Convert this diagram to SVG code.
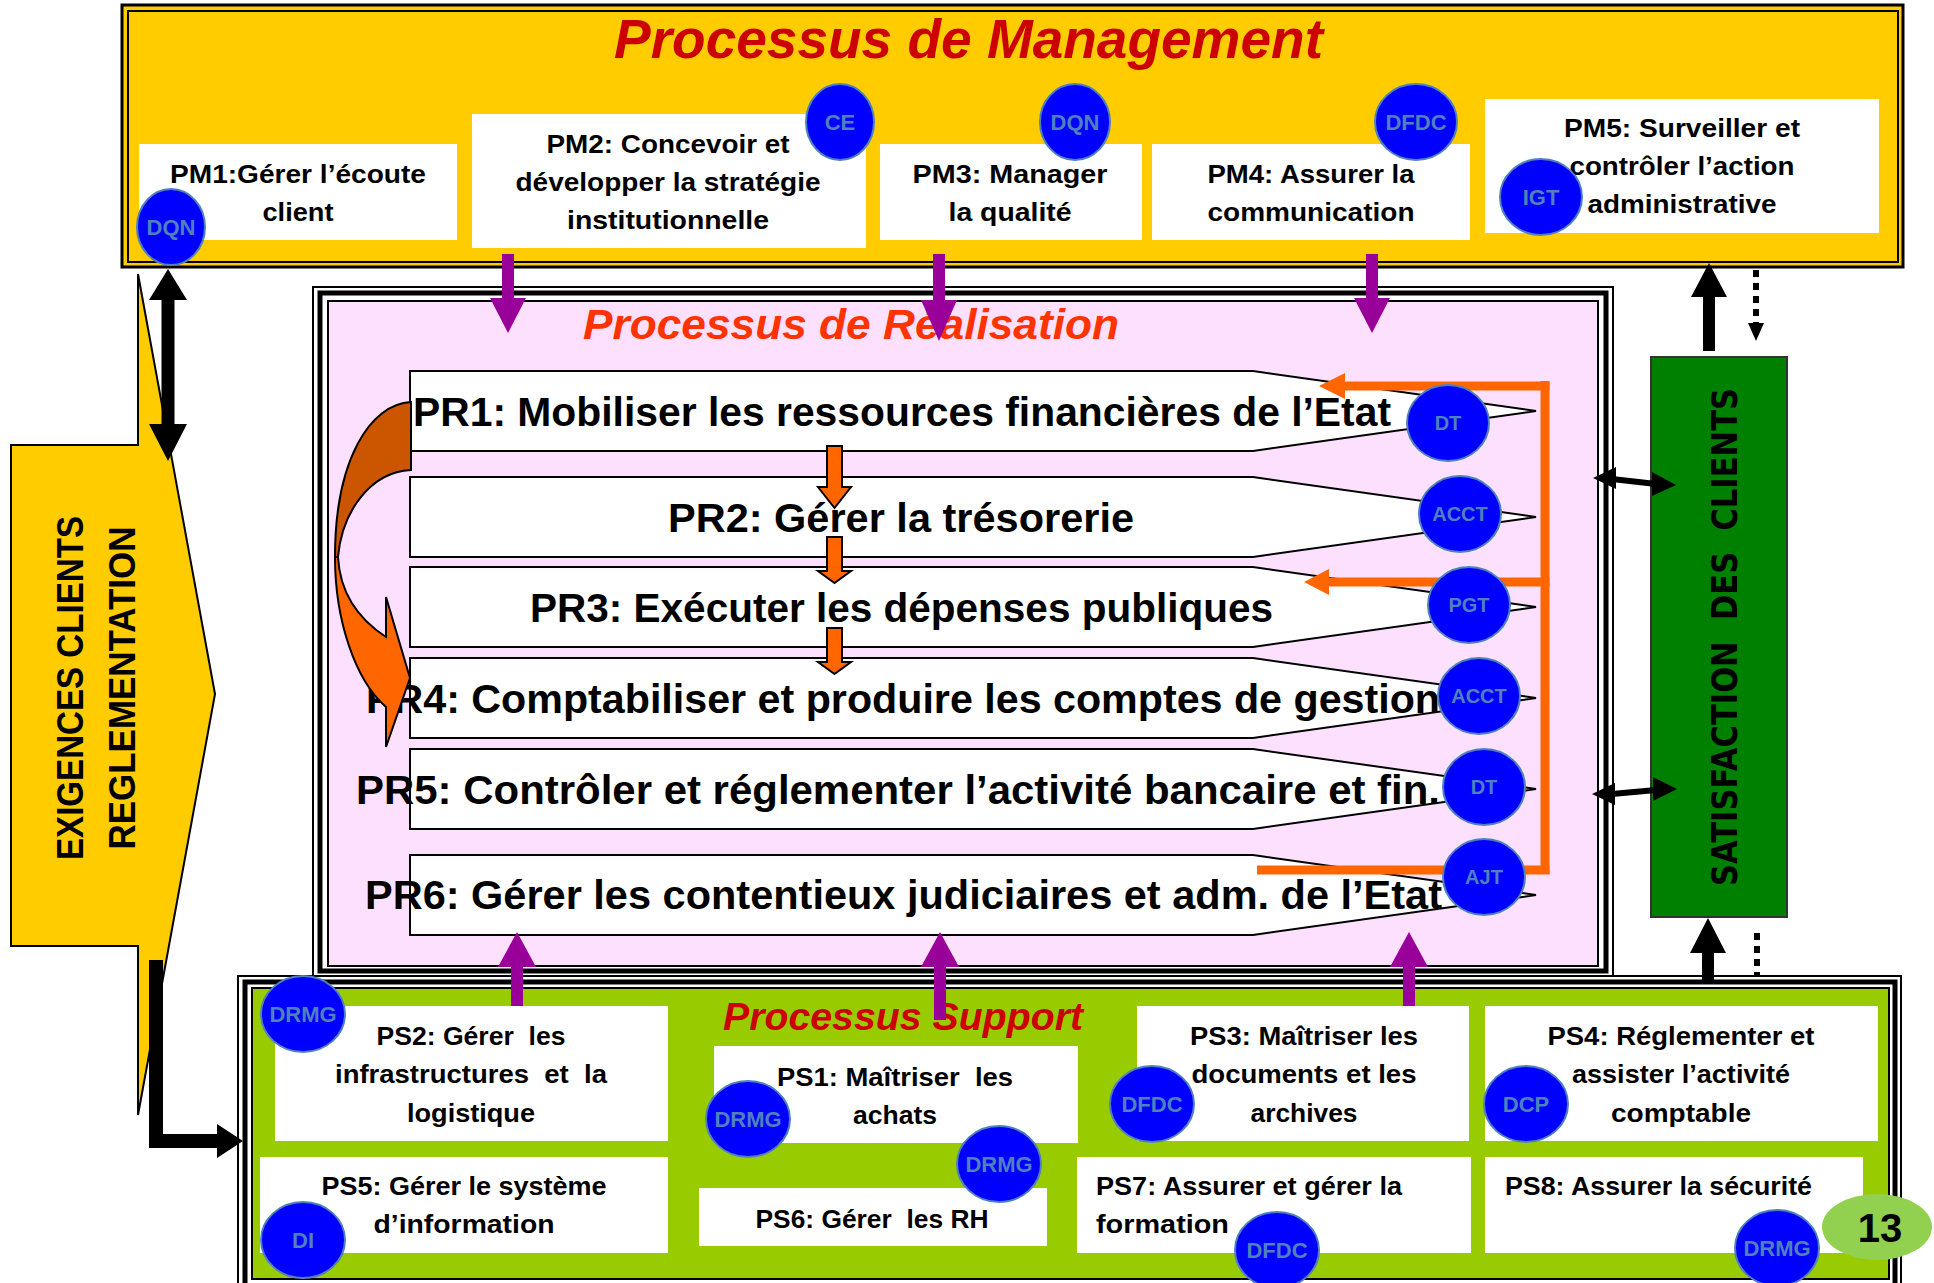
<svg xmlns="http://www.w3.org/2000/svg" width="1934" height="1283" viewBox="0 0 1934 1283">
<style>
.t{font-family:"Liberation Sans",Arial,sans-serif;font-weight:bold;fill:#000;text-anchor:middle;font-size:26px}
.ts{text-anchor:start}
.pr{font-family:"Liberation Sans",Arial,sans-serif;font-weight:bold;fill:#000;font-size:40px}
.ttl{font-family:"Liberation Sans",Arial,sans-serif;font-weight:bold;font-style:italic}
.wb{fill:#fff}
.pent{fill:#fff;stroke:#000;stroke-width:2}
.badge ellipse{fill:#0000FF;stroke:#4F81BD;stroke-width:2}
.badge text{font-family:"Liberation Sans",Arial,sans-serif;font-weight:bold;fill:#4F81BD;font-size:22px;text-anchor:middle}
.prb text{font-size:20px}
.pu{fill:#990099}
.oa{fill:#FF6600;stroke:#000;stroke-width:2}
.bk{fill:#000}
.ob{stroke:#FF6600;stroke-width:9;fill:none}
</style>

<!-- Management container -->
<g id="management">
<rect x="122" y="5" width="1781" height="262" fill="#FFCC00" stroke="#000" stroke-width="3"/>
<rect x="128" y="11" width="1770" height="251" fill="none" stroke="#000" stroke-width="2"/>
<text class="ttl" x="614" y="58" style="font-size:56px" fill="#CC0000" textLength="709" lengthAdjust="spacingAndGlyphs">Processus de Management</text>
</g>

<!-- Realisation container -->
<g id="realisation">
<rect x="313" y="287" width="1300" height="689" fill="#fff" stroke="#000" stroke-width="2"/>
<rect x="320" y="293" width="1286" height="678" fill="none" stroke="#000" stroke-width="5"/>
<rect x="328" y="301" width="1270" height="665" fill="#FDE0FD" stroke="#000" stroke-width="2"/>
<text class="ttl" x="583" y="339" style="font-size:43px" fill="#FF3300" textLength="536" lengthAdjust="spacingAndGlyphs">Processus de Réalisation</text>
</g>

<!-- Support container -->
<g id="support">
<rect x="238" y="976" width="1663" height="320" fill="#fff" stroke="#000" stroke-width="2"/>
<rect x="245" y="982" width="1650" height="310" fill="none" stroke="#000" stroke-width="5"/>
<rect x="252" y="988" width="1637" height="291" fill="#99CC00" stroke="#000" stroke-width="2"/>
<text class="ttl" x="723" y="1030" style="font-size:38px" fill="#CC0000" textLength="360" lengthAdjust="spacingAndGlyphs">Processus Support</text>
</g>

<!-- Left input arrow -->
<g id="exigences">
<polygon points="11,445 138,445 138,274 215,694 138,1115 138,946 11,946" fill="#FFCC00" stroke="#000" stroke-width="2"/>
<text class="t" transform="translate(83,688) rotate(-90)" style="font-size:37px" textLength="344" lengthAdjust="spacingAndGlyphs">EXIGENCES CLIENTS</text>
<text class="t" transform="translate(135,688) rotate(-90)" style="font-size:37px" textLength="323" lengthAdjust="spacingAndGlyphs">REGLEMENTATION</text>
</g>

<!-- Satisfaction -->
<g id="satisfaction">
<rect x="1651" y="357" width="136" height="560" fill="#008000" stroke="#333" stroke-width="2"/>
<text class="t" transform="translate(1737,637) rotate(-90)" style="font-family:'DejaVu Sans',sans-serif;font-size:35px" textLength="498" lengthAdjust="spacingAndGlyphs" xml:space="preserve">SATISFACTION  DES  CLIENTS</text>
</g>

<!-- PM nodes -->
<g id="pm1"><rect class="wb" x="139" y="144" width="318" height="96"/>
<text class="t" x="298" y="183" textLength="256" lengthAdjust="spacingAndGlyphs">PM1:Gérer l’écoute</text>
<text class="t" x="298" y="221" textLength="71" lengthAdjust="spacingAndGlyphs">client</text></g>
<g id="pm2"><rect class="wb" x="472" y="114" width="394" height="134"/>
<text class="t" x="668" y="153" textLength="243" lengthAdjust="spacingAndGlyphs">PM2: Concevoir et</text>
<text class="t" x="668" y="191" textLength="305" lengthAdjust="spacingAndGlyphs">développer la stratégie</text>
<text class="t" x="668" y="229" textLength="202" lengthAdjust="spacingAndGlyphs">institutionnelle</text></g>
<g id="pm3"><rect class="wb" x="880" y="144" width="262" height="96"/>
<text class="t" x="1010" y="183" textLength="195" lengthAdjust="spacingAndGlyphs">PM3: Manager</text>
<text class="t" x="1010" y="221" textLength="123" lengthAdjust="spacingAndGlyphs">la qualité</text></g>
<g id="pm4"><rect class="wb" x="1152" y="144" width="318" height="96"/>
<text class="t" x="1311" y="183" textLength="207" lengthAdjust="spacingAndGlyphs">PM4: Assurer la</text>
<text class="t" x="1311" y="221" textLength="207" lengthAdjust="spacingAndGlyphs">communication</text></g>
<g id="pm5"><rect class="wb" x="1485" y="99" width="394" height="134"/>
<text class="t" x="1682" y="137" textLength="236" lengthAdjust="spacingAndGlyphs">PM5: Surveiller et</text>
<text class="t" x="1682" y="175" textLength="225" lengthAdjust="spacingAndGlyphs">contrôler l’action</text>
<text class="t" x="1682" y="213" textLength="189" lengthAdjust="spacingAndGlyphs">administrative</text></g>

<!-- PR nodes -->
<g id="pr1"><polygon class="pent" points="410,371 1253,371 1536,411 1253,451 410,451"/>
<text class="pr" x="413" y="426" textLength="978" lengthAdjust="spacingAndGlyphs">PR1: Mobiliser les ressources financières de l’Etat</text></g>
<g id="pr2"><polygon class="pent" points="410,477 1253,477 1536,517 1253,557 410,557"/>
<text class="pr" x="668" y="532" textLength="466" lengthAdjust="spacingAndGlyphs">PR2: Gérer la trésorerie</text></g>
<g id="pr3"><polygon class="pent" points="410,567 1253,567 1536,607 1253,647 410,647"/>
<text class="pr" x="530" y="622" textLength="743" lengthAdjust="spacingAndGlyphs">PR3: Exécuter les dépenses publiques</text></g>
<g id="pr4"><polygon class="pent" points="410,658 1253,658 1536,698 1253,738 410,738"/>
<text class="pr" x="366" y="713" textLength="1074" lengthAdjust="spacingAndGlyphs">PR4: Comptabiliser et produire les comptes de gestion</text></g>
<g id="pr5"><polygon class="pent" points="410,749 1253,749 1536,789 1253,829 410,829"/>
<text class="pr" x="356" y="804" textLength="1084" lengthAdjust="spacingAndGlyphs">PR5: Contrôler et réglementer l’activité bancaire et fin.</text></g>
<g id="pr6"><polygon class="pent" points="410,855 1253,855 1536,895 1253,935 410,935"/>
<text class="pr" x="365" y="909" textLength="1077" lengthAdjust="spacingAndGlyphs">PR6: Gérer les contentieux judiciaires et adm. de l’Etat</text></g>

<!-- PS nodes -->
<g id="ps2"><rect class="wb" x="275" y="1006" width="393" height="135"/>
<text class="t" x="471" y="1045" textLength="189" lengthAdjust="spacingAndGlyphs" xml:space="preserve">PS2: Gérer  les</text>
<text class="t" x="471" y="1083" textLength="272" lengthAdjust="spacingAndGlyphs" xml:space="preserve">infrastructures  et  la</text>
<text class="t" x="471" y="1122" textLength="128" lengthAdjust="spacingAndGlyphs">logistique</text></g>
<g id="ps5"><rect class="wb" x="260" y="1157" width="408" height="96"/>
<text class="t" x="464" y="1195" textLength="285" lengthAdjust="spacingAndGlyphs">PS5: Gérer le système</text>
<text class="t" x="464" y="1233" textLength="181" lengthAdjust="spacingAndGlyphs">d’information</text></g>
<g id="ps1"><rect class="wb" x="714" y="1046" width="364" height="97"/>
<text class="t" x="895" y="1086" textLength="236" lengthAdjust="spacingAndGlyphs" xml:space="preserve">PS1: Maîtriser  les</text>
<text class="t" x="895" y="1124" textLength="84" lengthAdjust="spacingAndGlyphs">achats</text></g>
<g id="ps6"><rect class="wb" x="699" y="1188" width="348" height="58"/>
<text class="t" x="872" y="1228" textLength="233" lengthAdjust="spacingAndGlyphs" xml:space="preserve">PS6: Gérer  les RH</text></g>
<g id="ps3"><rect class="wb" x="1137" y="1006" width="332" height="135"/>
<text class="t" x="1304" y="1045" textLength="228" lengthAdjust="spacingAndGlyphs">PS3: Maîtriser les</text>
<text class="t" x="1304" y="1083" textLength="225" lengthAdjust="spacingAndGlyphs">documents et les</text>
<text class="t" x="1304" y="1122" textLength="107" lengthAdjust="spacingAndGlyphs">archives</text></g>
<g id="ps4"><rect class="wb" x="1485" y="1006" width="393" height="135"/>
<text class="t" x="1681" y="1045" textLength="267" lengthAdjust="spacingAndGlyphs">PS4: Réglementer et</text>
<text class="t" x="1681" y="1083" textLength="218" lengthAdjust="spacingAndGlyphs">assister l’activité</text>
<text class="t" x="1681" y="1122" textLength="140" lengthAdjust="spacingAndGlyphs">comptable</text></g>
<g id="ps7"><rect class="wb" x="1077" y="1157" width="394" height="96"/>
<text class="t ts" x="1096" y="1195" textLength="306" lengthAdjust="spacingAndGlyphs">PS7: Assurer et gérer la</text>
<text class="t ts" x="1096" y="1233" textLength="133" lengthAdjust="spacingAndGlyphs">formation</text></g>
<g id="ps8"><rect class="wb" x="1485" y="1157" width="378" height="96"/>
<text class="t ts" x="1505" y="1195" textLength="307" lengthAdjust="spacingAndGlyphs">PS8: Assurer la sécurité</text></g>

<!-- Connectors -->
<g id="connectors">
<polygon class="pu" points="502,254 514,254 514,298 526,298 508,333 490,298 502,298"/>
<polygon class="pu" points="933,254 945,254 945,300 957,300 939,341 921,300 933,300"/>
<polygon class="pu" points="1366,254 1378,254 1378,298 1390,298 1372,333 1354,298 1366,298"/>
<polygon class="pu" points="511,1006 523,1006 523,967 536,967 517,932 498,967 511,967"/>
<polygon class="pu" points="934,1020 946,1020 946,967 959,967 940,932 921,967 934,967"/>
<polygon class="pu" points="1403,1006 1415,1006 1415,967 1428,967 1409,932 1390,967 1403,967"/>
<polygon class="oa" points="827,446 842,446 842,487 851,487 834.5,508 818,487 827,487"/>
<polygon class="oa" points="827,537 842,537 842,571 851,571 834.5,583 818,571 827,571"/>
<polygon class="oa" points="827,628 842,628 842,662 851,662 834.5,674 818,662 827,662"/>
<path class="ob" d="M1545,381 V874"/>
<path class="ob" d="M1549.5,386 H1342"/>
<polygon fill="#FF6600" points="1345,373 1345,399 1319,386"/>
<path class="ob" d="M1549.5,582 H1326"/>
<polygon fill="#FF6600" points="1329,569 1329,595 1304,582"/>
<path class="ob" d="M1549.5,870 H1257"/>
<path d="M411,402 C370,404 335,460 335,557 L338,557 C342,512 370,472 411,470 Z" fill="#CC5500" stroke="#000" stroke-width="2"/>
<path d="M335,557 C335,620 355,680 386,707 L386,747 L410,678 L386,597 L386,637 C360,620 340,595 338,557 Z" fill="#FF6600" stroke="#000" stroke-width="2"/>
<polygon class="bk" points="161.5,300 174.5,300 174.5,424 187,424 168,461 149,424 161.5,424 161.5,300 149,300 168,269 187,300"/>
<polygon class="bk" points="149,960 163,960 163,1134 217,1134 217,1124 243,1141 217,1158 217,1148 149,1148"/>
<polygon class="bk" points="1703,351 1715,351 1715,297 1727,297 1709,263 1691,297 1703,297"/>
<line x1="1756" y1="270" x2="1756" y2="325" stroke="#000" stroke-width="6" stroke-dasharray="7 6"/>
<polygon class="bk" points="1748,323 1764,323 1756,341"/>
<polygon class="bk" points="1702,982 1714,982 1714,953 1726,953 1708,918 1690,953 1702,953"/>
<line x1="1757" y1="933" x2="1757" y2="975" stroke="#000" stroke-width="6" stroke-dasharray="7 6"/>
<line x1="1612" y1="479" x2="1656" y2="484" stroke="#000" stroke-width="6"/>
<polygon class="bk" points="1593,478 1616,467 1616,489"/>
<polygon class="bk" points="1676,485 1652,472 1652,496"/>
<line x1="1612" y1="794" x2="1656" y2="790" stroke="#000" stroke-width="6"/>
<polygon class="bk" points="1592,794 1615,783 1615,805"/>
<polygon class="bk" points="1677,789 1653,777 1653,801"/>
</g>

<!-- Badges -->
<g id="b-pm1" class="badge"><ellipse cx="171" cy="227" rx="34" ry="38"/><text x="171" y="235">DQN</text></g>
<g id="b-pm2" class="badge"><ellipse cx="840" cy="122" rx="34" ry="38"/><text x="840" y="130">CE</text></g>
<g id="b-pm3" class="badge"><ellipse cx="1075" cy="122" rx="35" ry="38"/><text x="1075" y="130">DQN</text></g>
<g id="b-pm4" class="badge"><ellipse cx="1416" cy="122" rx="41" ry="38"/><text x="1416" y="130">DFDC</text></g>
<g id="b-pm5" class="badge"><ellipse cx="1541" cy="197" rx="41" ry="38"/><text x="1541" y="205">IGT</text></g>

<g id="b-pr1" class="badge prb"><ellipse cx="1448" cy="423" rx="41" ry="38"/><text x="1448" y="430">DT</text></g>
<g id="b-pr2" class="badge prb"><ellipse cx="1460" cy="514" rx="41" ry="38"/><text x="1460" y="521">ACCT</text></g>
<g id="b-pr3" class="badge prb"><ellipse cx="1469" cy="605" rx="41" ry="38"/><text x="1469" y="612">PGT</text></g>
<g id="b-pr4" class="badge prb"><ellipse cx="1479" cy="696" rx="41" ry="38"/><text x="1479" y="703">ACCT</text></g>
<g id="b-pr5" class="badge prb"><ellipse cx="1484" cy="787" rx="41" ry="38"/><text x="1484" y="794">DT</text></g>
<g id="b-pr6" class="badge prb"><ellipse cx="1484" cy="877" rx="41" ry="38"/><text x="1484" y="884">AJT</text></g>

<g id="b-ps2" class="badge"><ellipse cx="303" cy="1014" rx="42" ry="38"/><text x="303" y="1022">DRMG</text></g>
<g id="b-ps5" class="badge"><ellipse cx="303" cy="1240" rx="42" ry="38"/><text x="303" y="1248">DI</text></g>
<g id="b-ps1" class="badge"><ellipse cx="748" cy="1119" rx="42" ry="38"/><text x="748" y="1127">DRMG</text></g>
<g id="b-ps6" class="badge"><ellipse cx="999" cy="1164" rx="42" ry="38"/><text x="999" y="1172">DRMG</text></g>
<g id="b-ps3" class="badge"><ellipse cx="1152" cy="1104" rx="42" ry="38"/><text x="1152" y="1112">DFDC</text></g>
<g id="b-ps4" class="badge"><ellipse cx="1526" cy="1104" rx="42" ry="38"/><text x="1526" y="1112">DCP</text></g>
<g id="b-ps7" class="badge"><ellipse cx="1277" cy="1250" rx="42" ry="38"/><text x="1277" y="1258">DFDC</text></g>
<g id="b-ps8" class="badge"><ellipse cx="1777" cy="1248" rx="42" ry="38"/><text x="1777" y="1256">DRMG</text></g>

<g id="page-number"><ellipse cx="1877" cy="1227" rx="55" ry="33" fill="#92D050"/>
<text class="t" x="1880" y="1242" style="font-size:40px">13</text></g>
</svg>
